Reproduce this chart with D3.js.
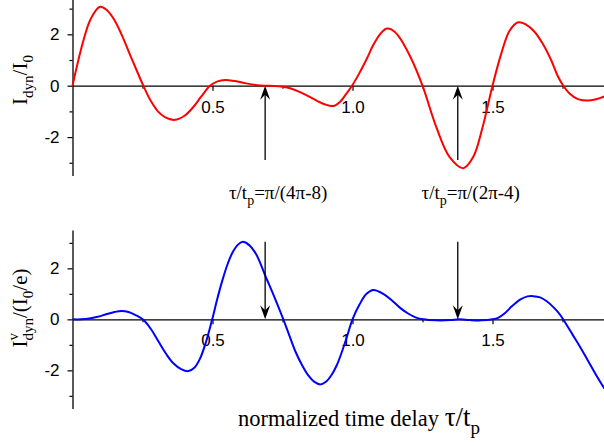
<!DOCTYPE html>
<html>
<head>
<meta charset="utf-8">
<script src="https://cdn.jsdelivr.net/npm/d3@7"></script>
<style>
  body { margin: 0; background: #fff; }
  svg { display: block; }
</style>
</head>
<body>
<div class="canvas"></div>
<script>
// values (tau/t_p, signal)
const redTau = [0, 0.02, 0.04, 0.065, 0.098, 0.125, 0.15, 0.175, 0.2, 0.227, 0.253, 0.28, 0.305, 0.33, 0.366,
  0.4, 0.43, 0.46, 0.491, 0.518, 0.545, 0.58, 0.62, 0.66, 0.69, 0.72, 0.75, 0.78, 0.813, 0.842, 0.872, 0.9,
  0.931, 0.955, 0.975, 1.0, 1.025, 1.051, 1.075, 1.098, 1.12, 1.14, 1.163, 1.207, 1.25, 1.299, 1.347,
  1.396, 1.431, 1.465, 1.5, 1.531, 1.561, 1.592, 1.62, 1.65, 1.68, 1.71, 1.733, 1.753, 1.775, 1.805,
  1.84, 1.87, 1.9];
const redVal = [0, 0.95, 1.8, 2.6, 3.07, 2.92, 2.55, 2.0, 1.35, 0.65, 0, -0.6, -1.0, -1.22, -1.33,
  -1.17, -0.85, -0.42, 0, 0.17, 0.22, 0.18, 0.09, 0.02, 0, -0.01, -0.04, -0.11, -0.25, -0.41, -0.58, -0.72,
  -0.79, -0.63, -0.36, 0.03, 0.5, 1.05, 1.6, 2.0, 2.22, 2.18, 1.95, 1.12, 0, -1.6, -2.78,
  -3.21, -2.78, -1.6, 0, 1.24, 2.14, 2.47, 2.38, 2.1, 1.62, 0.98, 0.38, 0, -0.3, -0.52,
  -0.58, -0.53, -0.42];

const blueTau = [0, 0.03, 0.06, 0.09, 0.12, 0.15, 0.176, 0.2, 0.225, 0.253, 0.28, 0.306, 0.336, 0.36, 0.388,
  0.414, 0.435, 0.455, 0.477, 0.499, 0.517, 0.535, 0.555, 0.572, 0.59, 0.608, 0.63, 0.656, 0.69, 0.72,
  0.753, 0.775, 0.797, 0.82, 0.842, 0.864, 0.886, 0.905, 0.924, 0.943, 0.962, 0.981, 1.0, 1.025, 1.05,
  1.074, 1.11, 1.14, 1.17, 1.2, 1.225, 1.253, 1.3, 1.35, 1.38, 1.42, 1.46, 1.5, 1.52, 1.545, 1.57, 1.6,
  1.625, 1.646, 1.67, 1.695, 1.72, 1.74, 1.76, 1.785, 1.8125, 1.84, 1.87, 1.9];
const blueVal = [0, 0, 0.03, 0.1, 0.2, 0.29, 0.33, 0.29, 0.17, -0.02, -0.38, -0.85, -1.38, -1.72, -1.95,
  -2.03, -1.9, -1.55, -0.88, 0, 0.8, 1.52, 2.2, 2.63, 2.92, 3.04, 2.92, 2.55, 1.67, 0.9,
  0, -0.65, -1.28, -1.8, -2.2, -2.45, -2.55, -2.45, -2.2, -1.82, -1.28, -0.65, 0, 0.58, 1.0,
  1.15, 1.0, 0.75, 0.45, 0.22, 0.08, 0, -0.04, -0.03, 0, -0.03, -0.04, 0, 0.06, 0.25, 0.52, 0.78,
  0.9, 0.91, 0.86, 0.7, 0.45, 0.2, -0.13, -0.58, -1.07, -1.6, -2.18, -2.72];

// marked delays: pi/(4pi-8) and pi/(2pi-4)
const arrowTau = [0.688, 1.376];
const arrowLabels = [['τ/t', 'p', '=π/(4π-8)'], ['τ/t', 'p', '=π/(2π-4)']];

const xMajor = [0.5, 1.0, 1.5];
const xMinor = [0.25, 0.75, 1.25, 1.75];
const yMajor = [-2, 0, 2];
const yMinor = [-3, -1, 1, 3];

const dims = {
  width: 604,
  height: 446,
  left: 72.5,
  unitX: 280,
  sans: "'Liberation Sans', Arial, sans-serif",
  serif: "'Liberation Serif', 'Times New Roman', serif"
};

const svg = d3.select('.canvas')
  .append('svg')
  .attr('width', dims.width)
  .attr('height', dims.height);

const x = d3.scaleLinear()
  .domain([0, 1.9])
  .range([dims.left, dims.left + 1.9 * dims.unitX]);

// two panels, same scale, stacked
const panels = [
  { y: d3.scaleLinear().domain([-3.5, 3.5]).range([175.6, -4.2]),
    tau: redTau, val: redVal, color: '#ff0000', arrowFrom: -2.89 },
  { y: d3.scaleLinear().domain([-3.5, 3.5]).range([408.6, 230.1]),
    tau: blueTau, val: blueVal, color: '#0000ff', arrowFrom: 3.04 }
];

const styleAxis = (g) => {
  g.selectAll('path.domain').attr('stroke', '#000').attr('stroke-width', 1.3);
  g.selectAll('.tick line').attr('stroke', '#000').attr('stroke-width', 1.2);
  g.selectAll('.tick text')
    .attr('fill', '#000')
    .attr('font-family', dims.sans)
    .attr('font-size', 17);
};

panels.forEach((p) => {
  const y = p.y;

  // y axis
  const yMinorG = svg.append('g').attr('transform', `translate(${dims.left},0)`)
    .call(d3.axisLeft(y).tickValues(yMinor).tickSize(3).tickFormat('').tickSizeOuter(0));
  yMinorG.select('path.domain').remove();
  styleAxis(yMinorG);
  const yAxisG = svg.append('g').attr('transform', `translate(${dims.left},0)`)
    .call(d3.axisLeft(y).tickValues(yMajor).tickSize(5).tickPadding(8)
      .tickFormat((d) => String(d)).tickSizeOuter(0));
  styleAxis(yAxisG);

  // x axis along zero line
  const xMinorG = svg.append('g').attr('transform', `translate(0,${y(0)})`)
    .call(d3.axisBottom(x).tickValues(xMinor).tickSize(3).tickFormat('').tickSizeOuter(0));
  xMinorG.select('path.domain').remove();
  styleAxis(xMinorG);
  const xAxisG = svg.append('g').attr('transform', `translate(0,${y(0)})`)
    .call(d3.axisBottom(x).tickValues(xMajor).tickSize(5).tickPadding(10)
      .tickFormat(d3.format('.1f')).tickSizeOuter(0));
  styleAxis(xAxisG);

  // curve
  const line = d3.line()
    .x((d) => x(d[0]))
    .y((d) => y(d[1]))
    .curve(d3.curveCatmullRom.alpha(0.5));
  svg.append('path')
    .datum(d3.zip(p.tau, p.val))
    .attr('d', line)
    .attr('fill', 'none')
    .attr('stroke', p.color)
    .attr('stroke-width', 2);

  // arrows pointing at zero line
  arrowTau.forEach((t) => {
    const ax = x(t);
    const tip = y(0);
    const tail = y(p.arrowFrom);
    const dir = tail > tip ? 1 : -1;
    svg.append('line')
      .attr('x1', ax).attr('x2', ax)
      .attr('y1', tail).attr('y2', tip + dir * 8)
      .attr('stroke', '#000')
      .attr('stroke-width', 1.3);
    svg.append('path')
      .attr('d', `M${ax},${tip} L${ax - 5},${tip + dir * 14} L${ax},${tip + dir * 9} L${ax + 5},${tip + dir * 14} Z`)
      .attr('fill', '#000');
  });
});

// annotation texts under the top panel
arrowTau.forEach((t, i) => {
  const txt = svg.append('text')
    .attr('x', x(t) + 13)
    .attr('y', 199)
    .attr('text-anchor', 'middle')
    .attr('font-family', dims.serif)
    .attr('font-size', 19);
  txt.append('tspan').text(arrowLabels[i][0]);
  txt.append('tspan').attr('dy', 6).attr('font-size', 14).text(arrowLabels[i][1]);
  txt.append('tspan').attr('dy', -6).text(arrowLabels[i][2]);
});

// x label
const xLabel = svg.append('text')
  .attr('x', 359)
  .attr('y', 426)
  .attr('text-anchor', 'middle')
  .attr('font-family', dims.serif)
  .attr('font-size', 22.5);
xLabel.append('tspan').text('normalized time delay ');
xLabel.append('tspan').attr('font-size', 27).text('τ/t');
xLabel.append('tspan').attr('dy', 8).attr('font-size', 19).text('p');

// y labels (rotated)
const yLab1 = svg.append('text')
  .attr('transform', 'translate(27,80) rotate(-90)')
  .attr('text-anchor', 'middle')
  .attr('font-family', dims.serif)
  .attr('font-size', 21);
yLab1.append('tspan').text('I');
yLab1.append('tspan').attr('dy', 6).attr('font-size', 15).text('dyn');
yLab1.append('tspan').attr('dy', -6).text('/I');
yLab1.append('tspan').attr('dy', 6).attr('font-size', 15).text('0');

const yLab2 = svg.append('text')
  .attr('transform', 'translate(27,308) rotate(-90)')
  .attr('text-anchor', 'middle')
  .attr('font-family', dims.serif)
  .attr('font-size', 21);
yLab2.append('tspan').text('I');
yLab2.append('tspan').attr('dy', -9).attr('font-size', 15).text('v');
yLab2.append('tspan').attr('dx', -7.5).attr('dy', 15).attr('font-size', 15).text('dyn');
yLab2.append('tspan').attr('dy', -6).text('/(I');
yLab2.append('tspan').attr('dy', 6).attr('font-size', 15).text('0');
yLab2.append('tspan').attr('dy', -6).text('/e)');
</script>
</body>
</html>
